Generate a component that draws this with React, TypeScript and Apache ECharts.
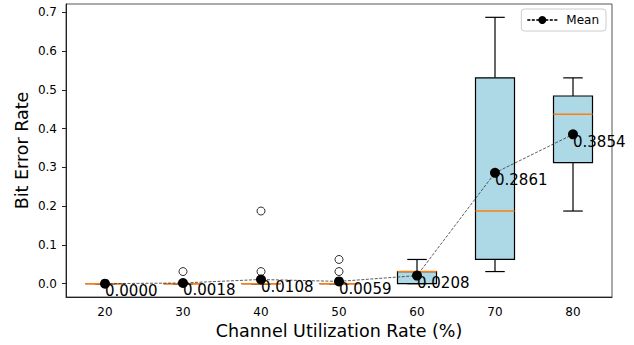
import React, { useEffect, useRef } from "react";
import * as echarts from "echarts";

const categories = ["20", "30", "40", "50", "60", "70", "80"];
const lowers = [0, 0, 0, 0, 0, 0.03125, 0.1875];
const q1s = [0, 0, 0, 0, 0, 0.0625, 0.3125];
const medians = [0, 0, 0, 0, 0.03125, 0.1875, 0.4375];
const q3s = [0, 0, 0, 0, 0.03125, 0.53125, 0.484375];
const uppers = [0, 0, 0, 0, 0.0625, 0.6875, 0.53125];
const outliers: [string, number][] = [
  ["30", 0.03125],
  ["40", 0.1875],
  ["40", 0.03125],
  ["50", 0.0625],
  ["50", 0.03125],
];
const means = [0.0, 0.0018, 0.0108, 0.0059, 0.0208, 0.2861, 0.3854];
const yTicks = [0, 0.1, 0.2, 0.3, 0.4, 0.5, 0.6, 0.7];

const FONT = "DejaVu Sans";

export default function App() {
  const ref = useRef<HTMLDivElement>(null);
  useEffect(() => {
    if (!ref.current) return;
    const chart = echarts.init(ref.current, undefined, { renderer: "svg" });
    const boxData = categories.map((_, i) => [i, lowers[i], q1s[i], medians[i], q3s[i], uppers[i]]);
    const option: any = {
      animation: false,
      backgroundColor: "#fff",
      textStyle: { fontFamily: FONT },
      grid: { left: 66, right: 22, top: 4, bottom: 47, show: true, borderColor: "#555", borderWidth: 1, backgroundColor: "transparent" },
      legend: {
        data: ["Mean"],
        right: 28,
        top: 9,
        itemWidth: 30,
        itemHeight: 10,
        padding: [5, 7, 5, 5],
        itemGap: 6,
        borderColor: "#ccc",
        borderWidth: 1,
        borderRadius: 3,
        textStyle: { fontFamily: FONT, fontSize: 12, color: "#000", padding: [0, 0, 0, 4] },
      },
      xAxis: {
        type: "category",
        data: categories,
        boundaryGap: true,
        axisLine: { onZero: false, lineStyle: { color: "#222", width: 1 } },
        axisTick: { alignWithLabel: true, length: 4, lineStyle: { color: "#222" } },
        axisLabel: { fontFamily: FONT, fontSize: 12, color: "#000", margin: 9 },
        name: "Channel Utilization Rate (%)",
        nameLocation: "middle",
        nameMoveOverlap: false,
        nameGap: 25,
        nameTextStyle: { fontFamily: FONT, fontSize: 17.5, color: "#000" },
        splitLine: { show: false },
      },
      yAxis: {
        type: "value",
        min: -0.0344,
        max: 0.7219,
        axisLine: { show: true, onZero: false, lineStyle: { color: "#222", width: 1 } },
        axisTick: { show: true, length: 4, customValues: yTicks, lineStyle: { color: "#222" } },
        axisLabel: {
          fontFamily: FONT,
          fontSize: 12,
          color: "#000",
          margin: 9,
          customValues: yTicks,
          formatter: (v: number) => v.toFixed(1),
        },
        splitLine: { show: false },
        name: "Bit Error Rate",
        nameLocation: "middle",
        nameMoveOverlap: false,
        nameGap: 35,
        nameTextStyle: { fontFamily: FONT, fontSize: 17.5, color: "#000" },
      },
      series: [
        {
          type: "custom",
          name: "box",
          z: 2,
          data: boxData,
          encode: { x: 0, y: [1, 2, 3, 4, 5] },
          renderItem: (params: any, api: any) => {
            const idx = api.value(0);
            const lo = api.coord([idx, api.value(1)]);
            const q1 = api.coord([idx, api.value(2)]);
            const md = api.coord([idx, api.value(3)]);
            const q3 = api.coord([idx, api.value(4)]);
            const hi = api.coord([idx, api.value(5)]);
            const band = api.size([1, 0])[0];
            const bw = band * 0.5;
            const cw = bw * 0.5;
            const x = lo[0];
            const black = { stroke: "#000", lineWidth: 1.2, fill: "none" };
            return {
              type: "group",
              children: [
                { type: "line", shape: { x1: x, y1: q1[1], x2: x, y2: lo[1] }, style: black },
                { type: "line", shape: { x1: x, y1: q3[1], x2: x, y2: hi[1] }, style: black },
                { type: "line", shape: { x1: x - cw / 2, y1: lo[1], x2: x + cw / 2, y2: lo[1] }, style: black },
                { type: "line", shape: { x1: x - cw / 2, y1: hi[1], x2: x + cw / 2, y2: hi[1] }, style: black },
                {
                  type: "rect",
                  shape: { x: x - bw / 2, y: q3[1], width: bw, height: q1[1] - q3[1] },
                  style: { fill: "#add8e6", stroke: "#000", lineWidth: 1.2 },
                },
                {
                  type: "line",
                  shape: { x1: x - bw / 2, y1: md[1], x2: x + bw / 2, y2: md[1] },
                  style: { stroke: "#ff7f0e", lineWidth: 1.5 },
                },
              ],
            };
          },
        },
        {
          type: "scatter",
          name: "outliers",
          z: 3,
          data: outliers,
          symbol: "circle",
          symbolSize: 8,
          itemStyle: { color: "#fff", borderColor: "#000", borderWidth: 1 },
        },
        {
          type: "line",
          name: "Mean",
          z: 4,
          data: means,
          symbol: "circle",
          symbolSize: 10,
          showAllSymbol: true,
          itemStyle: { color: "#000" },
          lineStyle: { color: "#333", width: 0.8, type: [3, 1.5] },
          label: {
            show: true,
            position: [5, 5],
            align: "left",
            verticalAlign: "top",
            fontFamily: FONT,
            fontSize: 15,
            color: "#000",
            formatter: (p: any) => Number(p.value).toFixed(4),
          },
        },
      ],
    };
    chart.setOption(option);
    return () => chart.dispose();
  }, []);
  return (
    <div
      ref={ref}
      style={{ position: "absolute", left: 0, top: 0, width: 634, height: 345, background: "#fff" }}
    />
  );
}
